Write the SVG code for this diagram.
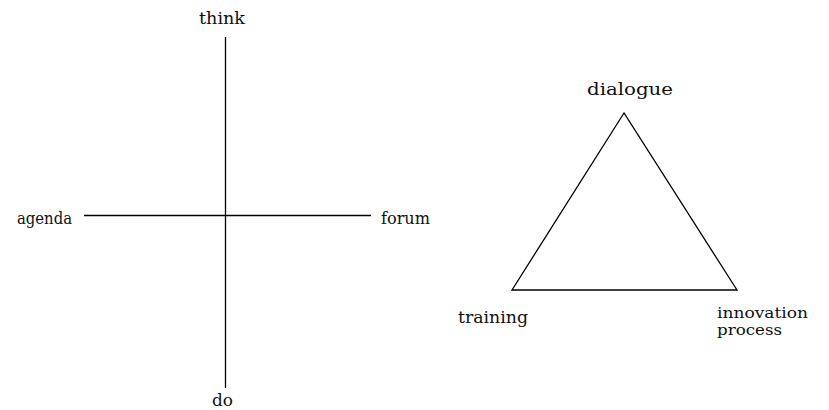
<svg xmlns="http://www.w3.org/2000/svg" width="829" height="410" viewBox="0 0 829 410">
<style>
text{font-family:"DejaVu Serif","Liberation Serif",serif;font-size:16px;fill:#111}
.sm{font-size:14.5px}
line,polygon{stroke:#000;stroke-width:1.3;fill:none}
</style>
<rect width="829" height="410" fill="#fff"/>
<g id="connectors">
<line x1="225.5" y1="37" x2="225.5" y2="388"/>
<line x1="84" y1="215.5" x2="371" y2="215.5"/>
<polygon points="624,113 512,290 737,290"/>
</g>
<g id="think"><text x="199" y="24" textLength="46" lengthAdjust="spacingAndGlyphs">think</text></g>
<g id="agenda"><text x="17" y="224" textLength="55" lengthAdjust="spacingAndGlyphs">agenda</text></g>
<g id="forum"><text x="381" y="224" textLength="49" lengthAdjust="spacingAndGlyphs">forum</text></g>
<g id="do"><text x="212" y="406" textLength="21" lengthAdjust="spacingAndGlyphs">do</text></g>
<g id="dialogue"><text x="587" y="95" textLength="86" lengthAdjust="spacingAndGlyphs">dialogue</text></g>
<g id="training"><text x="458" y="323" textLength="70" lengthAdjust="spacingAndGlyphs">training</text></g>
<g id="innovation"><text class="sm" x="717" y="318" textLength="91" lengthAdjust="spacingAndGlyphs">innovation</text><text class="sm" x="717" y="335" textLength="65" lengthAdjust="spacingAndGlyphs">process</text></g>
</svg>
